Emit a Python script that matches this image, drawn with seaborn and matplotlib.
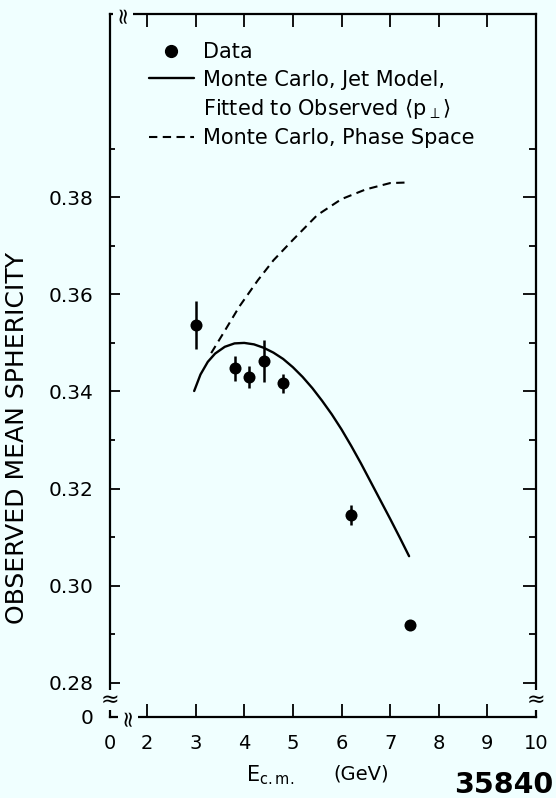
import matplotlib
matplotlib.use("Agg")
import matplotlib.pyplot as plt
from matplotlib.lines import Line2D
import numpy as np
import pandas as pd
import seaborn as sns

# ---------------- data ----------------
data_x = [3.0, 3.8, 4.1, 4.4, 4.8, 6.2, 7.4]
data_y = [0.3537, 0.3448, 0.3430, 0.3463, 0.3417, 0.3146, 0.2919]
data_err = [0.0050, 0.0026, 0.0023, 0.0043, 0.0020, 0.0020, 0.0010]

jet_x = [2.97, 3.1, 3.25, 3.4, 3.6, 3.8, 4.0, 4.2, 4.4, 4.6, 4.8, 5.0,
         5.2, 5.4, 5.6, 5.8, 6.0, 6.2, 6.4, 6.6, 6.8, 7.0, 7.2, 7.39]
jet_y = [0.3401, 0.3435, 0.3461, 0.3478, 0.3492, 0.3499, 0.3500, 0.3497,
         0.3490, 0.3480, 0.3467, 0.3450, 0.3430, 0.3407, 0.3381, 0.3353,
         0.3322, 0.3288, 0.3252, 0.3214, 0.3176, 0.3138, 0.3099, 0.3061]

ps_x = [3.32, 3.6, 3.9, 4.28, 4.6, 5.0, 5.5, 6.0, 6.5, 7.0, 7.3]
ps_y = [0.3479, 0.3525, 0.3575, 0.3629, 0.3670, 0.3712, 0.3763, 0.3796,
        0.3816, 0.3829, 0.3830]

x_ticks = [2, 3, 4, 5, 6, 7, 8, 9, 10]
x_tick_labels = ["2", "3", "4", "5", "6", "7", "8", "9", "10"]
y_major = [0.28, 0.30, 0.32, 0.34, 0.36, 0.38]
y_major_labels = ["0.28", "0.30", "0.32", "0.34", "0.36", "0.38"]
y_minor = [0.29, 0.31, 0.33, 0.35, 0.37, 0.39]

legend_labels = ["Data", "Monte Carlo, Jet Model,",
                 r"Fitted to Observed $\langle\mathrm{p}_{\perp}\rangle$",
                 "Monte Carlo, Phase Space"]

# ---------------- style ----------------
BG = "#F0FFFF"
sns.set_style("ticks")
plt.rcParams["font.family"] = ["DejaVu Sans"]
plt.rcParams["mathtext.fontset"] = "dejavusans"
for k in ["text.color", "axes.labelcolor", "xtick.color", "ytick.color",
          "axes.edgecolor"]:
    plt.rcParams[k] = "black"

W, H = 556, 798
fig = plt.figure(figsize=(W / 100, H / 100), dpi=100, facecolor=BG)
ax = fig.add_axes([110 / W, 1 - 717 / H, 426 / W, 703 / H])
ax.set_facecolor(BG)

X0, Y0 = 1.239, 0.2730
ax.set_xlim(X0, 10.0)
ax.set_ylim(Y0, 0.4177)

dash = (0, (4.0, 2.6))
df_jet = pd.DataFrame({"E": jet_x, "S": jet_y})
df_ps = pd.DataFrame({"E": ps_x, "S": ps_y})
df_data = pd.DataFrame({"E": data_x, "S": data_y, "err": data_err})

sns.lineplot(data=df_jet, x="E", y="S", ax=ax, color="black", lw=1.7,
             sort=False, estimator=None)
sns.lineplot(data=df_ps, x="E", y="S", ax=ax, color="black", lw=1.5,
             sort=False, estimator=None, linestyle=dash)
ax.errorbar(df_data["E"], df_data["S"], yerr=df_data["err"], fmt="none",
            ecolor="black", elinewidth=1.8, capsize=0, zorder=3)
sns.scatterplot(data=df_data, x="E", y="S", ax=ax, color="black", s=75,
                edgecolor="black", linewidth=0, zorder=4)

# ---------------- axes / ticks ----------------
for sp in ax.spines.values():
    sp.set_linewidth(1.6)
    sp.set_color("black")

ax.set_xticks([X0] + x_ticks, ["0"] + x_tick_labels)
ax.set_yticks([Y0] + y_major, ["0"] + y_major_labels)
ax.set_yticks(y_minor, minor=True)
ax.set_xticks([], minor=True)

ax.tick_params(axis="x", which="major", direction="in", length=9.5, width=1.3,
               top=True, bottom=True, labelsize=14, pad=12, colors="black")
ax.tick_params(axis="y", which="major", direction="in", length=7, width=1.3,
               left=True, right=True, labelsize=14.5, pad=12, colors="black")
ax.tick_params(axis="y", which="minor", direction="in", length=3.6, width=1.3,
               left=True, right=True, colors="black")

xt = ax.xaxis.get_major_ticks()
xt[0].tick1line.set_visible(False)
xt[0].tick2line.set_visible(False)
yt = ax.yaxis.get_major_ticks()
yt[0].tick1line.set_visible(False)
yt[0].tick2line.set_visible(False)
for t in yt:
    t.tick2line.set_markersize(9.5)
for t in ax.yaxis.get_minor_ticks():
    t.tick2line.set_markersize(5)

ax.set_xlabel("")
ax.set_ylabel("")

# axis breaks
brk = dict(transform=ax.transAxes, ha="center", va="center", fontsize=16,
           color="black", bbox=dict(facecolor=BG, edgecolor="none", pad=0.1))
ax.text(0.0, 0.024, "≈", **brk)
ax.text(1.0, 0.024, "≈", **brk)
ax.text(0.042, 0.0, "≈", rotation=90, **brk)
ax.text(0.03, 1.0, "≈", rotation=90, **brk)

# ---------------- legend ----------------
handles = [
    Line2D([], [], marker="o", ls="none", color="black", ms=8.5),
    Line2D([], [], color="black", lw=1.7),
    Line2D([], [], ls="none"),
    Line2D([], [], color="black", lw=1.5, ls=dash),
]
leg = ax.legend(handles, legend_labels, loc="upper left",
                bbox_to_anchor=(149 / W, 1 - 42 / H),
                bbox_transform=fig.transFigure, frameon=False,
                fontsize=15, handlelength=2.15, handletextpad=0.45,
                labelspacing=0.36, borderpad=0, borderaxespad=0)
for txt in leg.get_texts():
    txt.set_color("black")

# ---------------- labels ----------------
fig.text(17 / W, 1 - 438 / H, "OBSERVED MEAN SPHERICITY", rotation=90,
         ha="center", va="center", fontsize=18)
fig.text(246 / W, 1 - 775 / H, r"E$_{\mathrm{c.m.}}$", ha="left",
         va="center", fontsize=15)
fig.text(333 / W, 1 - 774 / H, "(GeV)", ha="left", va="center", fontsize=14)
fig.text(553 / W, 1 - 785 / H, "35840", ha="right", va="center",
         fontsize=20.5, fontweight="bold")

fig.savefig("out.png", dpi=100, facecolor=BG)
